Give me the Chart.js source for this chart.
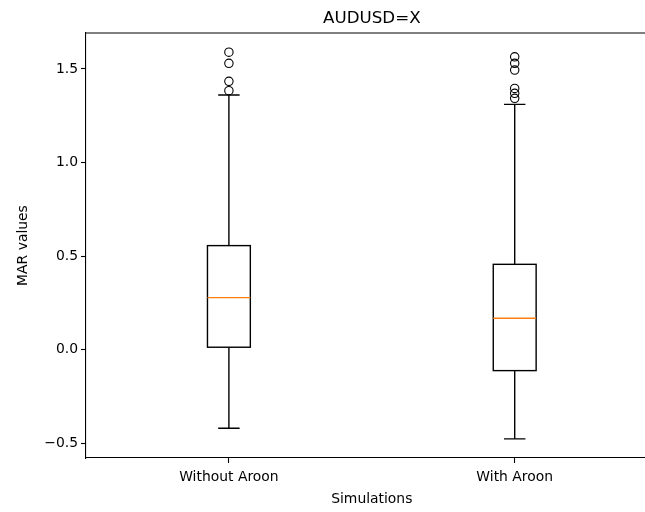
<!DOCTYPE html>
<html>
<head>
<meta charset="utf-8">
<script src="https://cdn.jsdelivr.net/npm/chart.js@4.4.0/dist/chart.umd.min.js"></script>
<style>
  html, body { margin: 0; padding: 0; overflow: hidden; background: #fff; }
</style>
</head>
<body>
<canvas id="c" width="700" height="512"></canvas>
<script>
// box statistics
const categories = ['Without Aroon', 'With Aroon'];
const positions = [1, 2];
const q1 = [0.013, -0.112];
const q3 = [0.556, 0.456];
const medians = [0.278, 0.168];
const whiskerLow = [-0.420, -0.477];
const whiskerHigh = [1.361, 1.311];
const outliersWithout = [1.590, 1.530, 1.434, 1.384];
const outliersWith = [1.565, 1.530, 1.494, 1.396, 1.370, 1.343];
const yTicks = [-0.5, 0, 0.5, 1, 1.5];

const FONT = 'DejaVu Sans';
const BOX_HALF = 0.075, CAP_HALF = 0.0375;

const boxPlugin = {
    id: 'boxes',
    beforeDatasetsDraw(chart) {
        const { ctx, scales: { x, y } } = chart;
        ctx.save();
        ctx.lineWidth = 1.4;
        ctx.lineCap = 'butt';
        positions.forEach((p, i) => {
            const xc = x.getPixelForValue(p);
            const xl = x.getPixelForValue(p - BOX_HALF), xr = x.getPixelForValue(p + BOX_HALF);
            const cl = x.getPixelForValue(p - CAP_HALF), cr = x.getPixelForValue(p + CAP_HALF);
            const yq1 = y.getPixelForValue(q1[i]), yq3 = y.getPixelForValue(q3[i]);
            const ylo = y.getPixelForValue(whiskerLow[i]), yhi = y.getPixelForValue(whiskerHigh[i]);
            const ymed = y.getPixelForValue(medians[i]);
            ctx.strokeStyle = '#000';
            ctx.beginPath();
            // whiskers
            ctx.moveTo(xc, yq3); ctx.lineTo(xc, yhi);
            ctx.moveTo(xc, yq1); ctx.lineTo(xc, ylo);
            // caps
            ctx.moveTo(cl, yhi); ctx.lineTo(cr, yhi);
            ctx.moveTo(cl, ylo); ctx.lineTo(cr, ylo);
            ctx.stroke();
            ctx.strokeRect(xl, yq3, xr - xl, yq1 - yq3);
            // median
            ctx.strokeStyle = '#ff7f0e';
            ctx.beginPath();
            ctx.moveTo(xl, ymed); ctx.lineTo(xr, ymed);
            ctx.stroke();
        });
        ctx.restore();
    },
    afterDraw(chart) {
        // top spine
        const { ctx, chartArea } = chart;
        ctx.save();
        ctx.strokeStyle = '#000';
        ctx.lineWidth = 1.1;
        ctx.beginPath();
        ctx.moveTo(chartArea.left, chartArea.top);
        ctx.lineTo(chartArea.right, chartArea.top);
        ctx.stroke();
        ctx.restore();
    }
};

const flierData = [
    ...outliersWithout.map(v => ({ x: positions[0], y: v })),
    ...outliersWith.map(v => ({ x: positions[1], y: v }))
];

const axisCommon = {
    border: { display: true, color: '#000', width: 1.1 },
    grid: { display: true, drawOnChartArea: false, drawTicks: true, tickLength: 5, tickColor: '#000', tickWidth: 1.1 }
};

new Chart(document.getElementById('c'), {
    type: 'scatter',
    data: {
        datasets: [{
            label: 'fliers',
            data: flierData,
            pointRadius: 4.2,
            pointHoverRadius: 4.2,
            pointBorderColor: '#000',
            pointBackgroundColor: 'rgba(0,0,0,0)',
            pointBorderWidth: 1.1
        }]
    },
    options: {
        responsive: false,
        animation: false,
        devicePixelRatio: 1,
        layout: { padding: { left: 0, right: 42.4, top: 0, bottom: 0 } },
        plugins: {
            legend: { display: false },
            tooltip: { enabled: false },
            title: {
                display: true,
                text: 'AUDUSD=X',
                fullSize: false,
                color: '#000',
                font: { family: FONT, size: 16.7, weight: 'normal', lineHeight: 1.2 },
                padding: { top: 9, bottom: 4 }
            }
        },
        scales: {
            x: {
                type: 'linear',
                min: 0.5,
                max: 2.5,
                ...axisCommon,
                afterFit: s => { s.height = 54; },
                afterBuildTicks: s => { s.ticks = positions.map(v => ({ value: v })); },
                ticks: {
                    color: '#000',
                    padding: 6,
                    font: { family: FONT, size: 13.9 },
                    callback: v => categories[positions.indexOf(v)] || ''
                },
                title: {
                    display: true,
                    text: 'Simulations',
                    color: '#000',
                    font: { family: FONT, size: 13.9 },
                    padding: { top: 0, bottom: 4 }
                }
            },
            y: {
                min: -0.579,
                max: 1.692,
                ...axisCommon,
                afterFit: s => { s.width = 86; },
                afterBuildTicks: s => { s.ticks = yTicks.map(v => ({ value: v })); },
                ticks: {
                    color: '#000',
                    padding: 3,
                    font: { family: FONT, size: 13.9 },
                    callback: v => (v < 0 ? '\u2212' : '') + Math.abs(v).toFixed(1)
                },
                title: {
                    display: true,
                    text: 'MAR values',
                    color: '#000',
                    font: { family: FONT, size: 13.9 },
                    padding: { top: 15, bottom: 0 }
                }
            }
        }
    },
    plugins: [boxPlugin]
});
</script>
</body>
</html>
